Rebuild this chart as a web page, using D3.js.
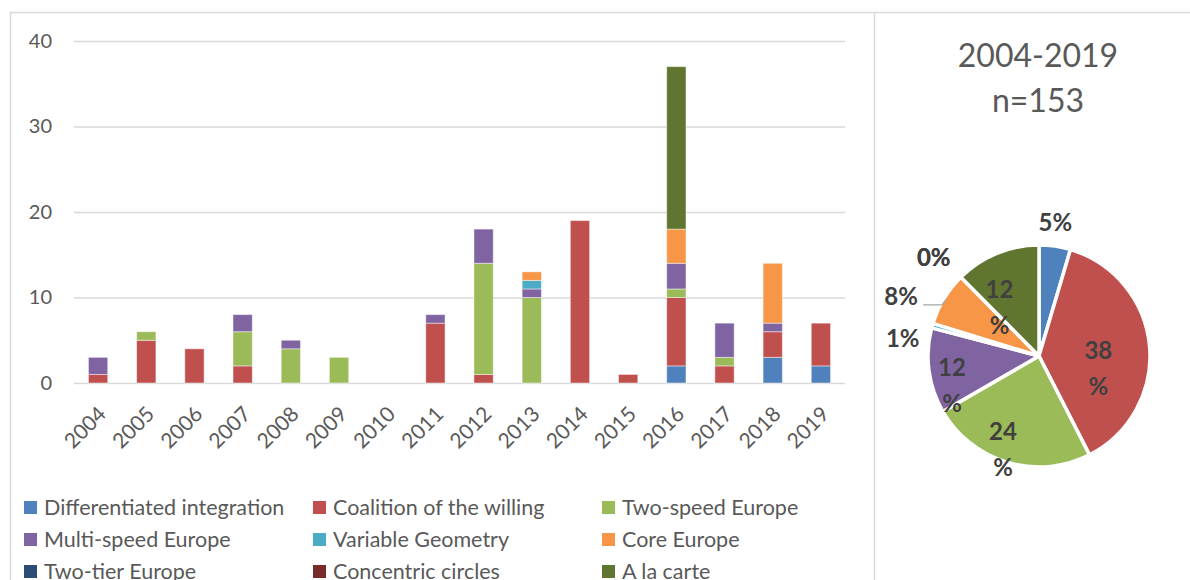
<!DOCTYPE html>
<html>
<head>
<meta charset="utf-8">
<script src="https://cdn.jsdelivr.net/npm/d3@7"></script>
<style>
  html, body { margin: 0; padding: 0; background: #fff; }
  svg { display: block; font-family: Lato, "Open Sans", sans-serif; }
</style>
</head>
<body>
<svg id="chart" width="1190" height="580"></svg>
<script>
// Mentions of differentiated-integration concepts per year, 2004-2019
const years = ["2004","2005","2006","2007","2008","2009","2010","2011",
               "2012","2013","2014","2015","2016","2017","2018","2019"];

const seriesNames = [
  "Differentiated integration", "Coalition of the willing", "Two-speed Europe",
  "Multi-speed Europe", "Variable Geometry", "Core Europe",
  "Two-tier Europe", "Concentric circles", "A la carte"
];

const seriesColors = ["#4F81BD", "#C0504D", "#9BBB59", "#8064A2", "#4BACC6",
                      "#F79646", "#2C4D75", "#772C2A", "#5F7530"];

const differentiatedIntegration = [0,0,0,0,0,0,0,0, 0,0,0,0,2,0,3,2];
const coalitionOfTheWilling     = [1,5,4,2,0,0,0,7, 1,0,19,1,8,2,3,5];
const twoSpeedEurope            = [0,1,0,4,4,3,0,0, 13,10,0,0,1,1,0,0];
const multiSpeedEurope          = [2,0,0,2,1,0,0,1, 4,1,0,0,3,4,1,0];
const variableGeometry          = [0,0,0,0,0,0,0,0, 0,1,0,0,0,0,0,0];
const coreEurope                = [0,0,0,0,0,0,0,0, 0,1,0,0,4,0,7,0];
const twoTierEurope             = [0,0,0,0,0,0,0,0, 0,0,0,0,0,0,0,0];
const concentricCircles         = [0,0,0,0,0,0,0,0, 0,0,0,0,0,0,0,0];
const aLaCarte                  = [0,0,0,0,0,0,0,0, 0,0,0,0,19,0,0,0];

const yTicks = [0, 10, 20, 30, 40];
const pieTitle = ["2004-2019", "n=153"];

const seriesValues = [differentiatedIntegration, coalitionOfTheWilling, twoSpeedEurope,
  multiSpeedEurope, variableGeometry, coreEurope, twoTierEurope, concentricCircles, aLaCarte];

const svg = d3.select("#chart");
const gridColor = "#d9d9d9";
const textColor = "#595959";

// ---- frame of the two panels
svg.append("path")
  .attr("d", "M10.5,580 V12.5 H1190 M874.5,12.5 V580")
  .attr("fill", "none").attr("stroke", gridColor).attr("stroke-width", 1.5);

// ---- stacked bar chart
const table = years.map((y, i) => {
  const row = { year: y };
  seriesNames.forEach((s, k) => { row[s] = seriesValues[k][i]; });
  return row;
});
const stacked = d3.stack().keys(seriesNames)(table);

const x = d3.scaleBand().domain(years).range([74, 845]).paddingInner(0.6).paddingOuter(0.3);
const y = d3.scaleLinear().domain([0, 40]).range([383, 41]);

const grid = svg.append("g");
grid.selectAll("line").data(yTicks).join("line")
  .attr("x1", 74).attr("x2", 845)
  .attr("y1", d => y(d) + 0.5).attr("y2", d => y(d) + 0.5)
  .attr("stroke", gridColor).attr("stroke-width", 1.4);

const yAxis = svg.append("g").attr("transform", "translate(52,0)")
  .call(d3.axisLeft(y).tickValues(yTicks).tickSize(0).tickPadding(0));
yAxis.select(".domain").remove();
yAxis.selectAll("text").attr("fill", textColor)
  .style("font-family", "Lato").style("font-size", "20px");

svg.append("g").selectAll("g").data(stacked).join("g")
  .attr("fill", (d, i) => seriesColors[i])
  .selectAll("rect").data(d => d.filter(p => p[1] > p[0])).join("rect")
  .attr("x", d => x(d.data.year))
  .attr("width", x.bandwidth())
  .attr("y", d => y(d[1]))
  .attr("height", d => y(d[0]) - y(d[1]))
  .attr("stroke", "rgba(255,255,255,0.45)").attr("stroke-width", 1);

svg.append("g").selectAll("text").data(years).join("text")
  .attr("transform", d => `translate(${x(d) + x.bandwidth() / 2 - 1},405) rotate(-45)`)
  .attr("text-anchor", "end").attr("dy", "0.7em")
  .attr("fill", textColor).style("font-size", "21px")
  .text(d => d);

// ---- legend (three columns)
const legend = svg.append("g").selectAll("g").data(seriesNames).join("g")
  .attr("transform", (d, i) => `translate(${[24, 313, 602][i % 3]},${501 + 32 * Math.floor(i / 3)})`);
legend.append("rect").attr("width", 13).attr("height", 13)
  .attr("fill", (d, i) => seriesColors[i]);
legend.append("text").attr("x", 20).attr("y", 14)
  .attr("fill", textColor).style("font-size", "21.5px")
  .text(d => d);

// ---- pie of totals
const totals = seriesValues.map(v => d3.sum(v));
const n = d3.sum(totals);
const cx = 1039, cy = 356, R = 111;

const title = svg.append("text").attr("text-anchor", "middle")
  .attr("fill", textColor).style("font-size", "32px");
title.selectAll("tspan").data(pieTitle).join("tspan")
  .attr("x", cx - 1).attr("y", (d, i) => 67 + 45 * i).text(d => d);

const pie = d3.pie().sort(null).value(d => d)(totals);
const arc = d3.arc().innerRadius(0).outerRadius(R);
const pieG = svg.append("g").attr("transform", `translate(${cx},${cy})`);
pieG.selectAll("path").data(pie).join("path")
  .attr("d", arc)
  .attr("fill", (d, i) => seriesColors[i])
  .attr("stroke", "#fff").attr("stroke-width", 3.5).attr("stroke-linejoin", "round");

const pct = v => Math.round(v / n * 100);
const insideArc = d3.arc().innerRadius(R * 0.7).outerRadius(R * 0.7);
const outsideArc = d3.arc().innerRadius(R * 1.22).outerRadius(R * 1.22);
// slices large enough get a two-line label inside, the rest sit outside
const isInside = d => pct(d.value) >= 10;
// small label nudges to keep text clear of slice borders and of each other
const nudge = {
  "Coalition of the willing": [-18, 2],
  "Two-speed Europe": [-14, 1],
  "Multi-speed Europe": [-10, 2],
  "A la carte": [-10, 6],
  "Variable Geometry": [-6, 20],
  "Core Europe": [-22, 11],
  "Two-tier Europe": [-10, -2],
  "Concentric circles": [-10, -2],
  "Differentiated integration": [-3, 1]
};
const labelStyle = sel => sel.attr("fill", "#404040").attr("font-weight", 700)
  .style("font-size", "24px").attr("text-anchor", "middle");

pie.forEach((d, i) => {
  const name = seriesNames[i];
  const [dx, dy] = nudge[name] || [0, 0];
  if (isInside(d)) {
    const [px, py] = insideArc.centroid(d);
    const t = pieG.append("text").call(labelStyle);
    t.append("tspan").attr("x", px + dx).attr("y", py + dy + 8).text(pct(d.value));
    t.append("tspan").attr("x", px + dx).attr("y", py + dy + 44).text("%");
  } else {
    const [px, py] = outsideArc.centroid(d);
    pieG.append("text").call(labelStyle)
      .attr("x", px + dx).attr("y", py + dy + 8)
      .text(pct(d.value) + "%");
    if (name === "Core Europe") {
      const a = (d.startAngle + d.endAngle) / 2;
      const ex = Math.sin(a) * R * 0.98, ey = -Math.cos(a) * R * 0.98;
      const lx = px + dx + 22, ly = py + dy + 8;
      pieG.append("path")
        .attr("d", `M${lx},${ly} H${ex - 4} L${ex},${ey}`)
        .attr("fill", "none").attr("stroke", "#a6a6a6").attr("stroke-width", 1.2);
    }
  }
});
</script>
</body>
</html>
